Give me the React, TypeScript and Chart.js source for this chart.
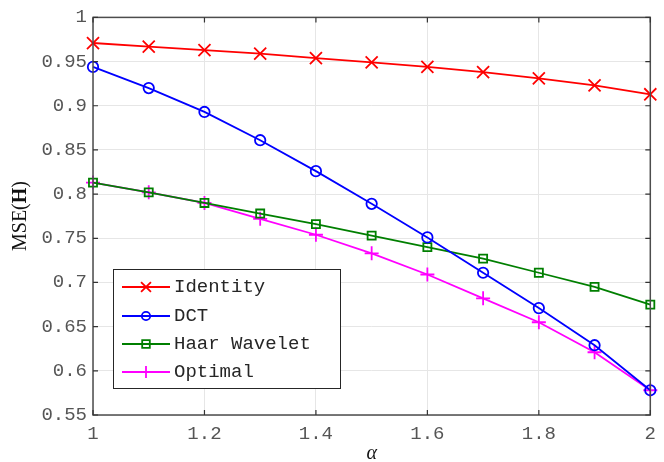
import React, { useEffect, useRef } from "react";
import { Chart, registerables } from "chart.js";

Chart.register(...registerables);

const alphas = [1, 1.1, 1.2, 1.3, 1.4, 1.5, 1.6, 1.7, 1.8, 1.9, 2];
const identity = [0.971, 0.967, 0.963, 0.959, 0.954, 0.949, 0.944, 0.938, 0.931, 0.923, 0.913];
const dct = [0.944, 0.920, 0.893, 0.861, 0.826, 0.789, 0.751, 0.711, 0.671, 0.629, 0.578];
const haar = [0.813, 0.802, 0.790, 0.778, 0.766, 0.753, 0.740, 0.727, 0.711, 0.695, 0.675];
const optimal = [0.813, 0.802, 0.790, 0.772, 0.754, 0.733, 0.709, 0.682, 0.655, 0.621, 0.578];
const seriesNames = ["Identity", "DCT", "Haar Wavelet", "Optimal"];
const xTicks = [1, 1.2, 1.4, 1.6, 1.8, 2];
const yTicks = [0.55, 0.6, 0.65, 0.7, 0.75, 0.8, 0.85, 0.9, 0.95, 1];

const colors = ["#ff0000", "#0000ff", "#007f00", "#ff00ff"];
const styles: any[] = ["crossRot", "circle", "rect", "cross"];
const radii = [8.5, 5.2, 5.7, 7];
const MONO = "'Liberation Mono', monospace";

const toXY = (ys: number[]) => ys.map((y, i) => ({ x: alphas[i], y }));

function marker(ctx: CanvasRenderingContext2D, style: string, r: number, x: number, y: number) {
  ctx.beginPath();
  if (style === "circle") {
    ctx.arc(x, y, r, 0, Math.PI * 2);
  } else if (style === "rect") {
    ctx.rect(x - r, y - r, 2 * r, 2 * r);
  } else if (style === "cross") {
    ctx.moveTo(x - r, y); ctx.lineTo(x + r, y);
    ctx.moveTo(x, y - r); ctx.lineTo(x, y + r);
  } else {
    const d = r * 0.7071;
    ctx.moveTo(x - d, y - d); ctx.lineTo(x + d, y + d);
    ctx.moveTo(x - d, y + d); ctx.lineTo(x + d, y - d);
  }
  ctx.stroke();
}

const framePlugin = {
  id: "frame",
  afterDraw(chart: any) {
    const { ctx, chartArea: a, scales } = chart;
    const xs = scales.x, ys = scales.y;
    ctx.save();
    ctx.strokeStyle = "#4d4d4d";
    ctx.lineWidth = 1.5;
    ctx.strokeRect(a.left, a.top, a.right - a.left, a.bottom - a.top);
    ctx.lineWidth = 1.2;
    ctx.strokeStyle = "#333";
    const tl = 5;
    xTicks.forEach((v) => {
      const px = xs.getPixelForValue(v);
      ctx.beginPath();
      ctx.moveTo(px, a.bottom); ctx.lineTo(px, a.bottom - tl);
      ctx.moveTo(px, a.top); ctx.lineTo(px, a.top + tl);
      ctx.stroke();
    });
    yTicks.forEach((v) => {
      const py = ys.getPixelForValue(v);
      ctx.beginPath();
      ctx.moveTo(a.left, py); ctx.lineTo(a.left + tl, py);
      ctx.moveTo(a.right, py); ctx.lineTo(a.right - tl, py);
      ctx.stroke();
    });

    // legend
    const lx = 113, ly = 269, lw = 227, lh = 119;
    ctx.fillStyle = "#fff";
    ctx.fillRect(lx, ly, lw, lh);
    ctx.strokeStyle = "#262626";
    ctx.lineWidth = 1;
    ctx.strokeRect(lx + 0.5, ly + 0.5, lw, lh);
    const rows = [287, 316, 344, 372];
    const legendRadii = [7, 4.2, 3.8, 6];
    seriesNames.forEach((name, i) => {
      const y = rows[i];
      ctx.strokeStyle = colors[i];
      ctx.lineWidth = 1.8;
      ctx.beginPath();
      ctx.moveTo(122, y); ctx.lineTo(170, y);
      ctx.stroke();
      marker(ctx, styles[i], legendRadii[i], 146, y);
      ctx.fillStyle = "#262626";
      ctx.font = `19px ${MONO}`;
      ctx.textAlign = "left";
      ctx.textBaseline = "middle";
      ctx.fillText(name, 174, y);
    });

    // y axis title
    ctx.save();
    ctx.translate(21, 216);
    ctx.rotate(-Math.PI / 2);
    ctx.fillStyle = "#111";
    ctx.textBaseline = "middle";
    const p1 = "MSE(", p2 = "H", p3 = ")";
    const fs = 20;
    ctx.font = `${fs}px 'Liberation Serif', serif`;
    const w1 = ctx.measureText(p1).width, w3 = ctx.measureText(p3).width;
    ctx.font = `bold ${fs}px 'Liberation Serif', serif`;
    const w2 = ctx.measureText(p2).width;
    let sx = -(w1 + w2 + w3) / 2;
    ctx.textAlign = "left";
    ctx.font = `${fs}px 'Liberation Serif', serif`;
    ctx.fillText(p1, sx, 0); sx += w1;
    ctx.font = `bold ${fs}px 'Liberation Serif', serif`;
    ctx.fillText(p2, sx, 0); sx += w2;
    ctx.font = `${fs}px 'Liberation Serif', serif`;
    ctx.fillText(p3, sx, 0);
    ctx.restore();

    // x axis title
    ctx.fillStyle = "#111";
    ctx.font = "italic 20px 'Liberation Serif', serif";
    ctx.textAlign = "center";
    ctx.textBaseline = "middle";
    ctx.fillText("\u03B1", (a.left + a.right) / 2, 454);
    ctx.restore();
  },
};

export default function App() {
  const ref = useRef<HTMLCanvasElement>(null);
  useEffect(() => {
    const chart = new Chart(ref.current!, {
      type: "line",
      data: {
        datasets: [identity, dct, haar, optimal].map((d, i) => ({
          label: seriesNames[i],
          data: toXY(d),
          borderColor: colors[i],
          backgroundColor: "transparent",
          pointBackgroundColor: "transparent",
          pointBorderColor: colors[i],
          pointStyle: styles[i],
          pointRadius: radii[i],
          pointBorderWidth: 1.8,
          borderWidth: 1.8,
          tension: 0,
          clip: false as any,
        })),
      },
      plugins: [framePlugin],
      options: {
        animation: false,
        responsive: false,
        maintainAspectRatio: false,
        layout: { padding: { left: 0, top: 16, right: 5, bottom: 0 } },
        plugins: { legend: { display: false }, tooltip: { enabled: false } },
        scales: {
          x: {
            type: "linear",
            min: 1,
            max: 2,
            afterBuildTicks: (s: any) => { s.ticks = xTicks.map((v) => ({ value: v })); },
            afterFit: (s: any) => { s.height = 47; },
            ticks: {
              color: "#555",
              font: { family: MONO, size: 19 },
              padding: 8,
              maxRotation: 0,
              callback: (v: any) => String(Math.round(Number(v) * 10) / 10),
            },
            grid: { color: "#e6e6e6", drawTicks: false },
            border: { display: false },
          },
          y: {
            min: 0.55,
            max: 1,
            afterBuildTicks: (s: any) => { s.ticks = yTicks.map((v) => ({ value: v })); },
            afterFit: (s: any) => { s.width = 93; },
            ticks: {
              color: "#555",
              font: { family: MONO, size: 19 },
              padding: 6,
              callback: (v: any) => String(Math.round(Number(v) * 100) / 100),
            },
            grid: { color: "#e6e6e6", drawTicks: false },
            border: { display: false },
          },
        },
      },
    });
    return () => chart.destroy();
  }, []);
  return (
    <div style={{ position: "fixed", left: 0, top: 0, width: 664, height: 462, background: "#fff" }}>
      <canvas ref={ref} width={664} height={462} style={{ width: 664, height: 462, display: "block" }} />
    </div>
  );
}
